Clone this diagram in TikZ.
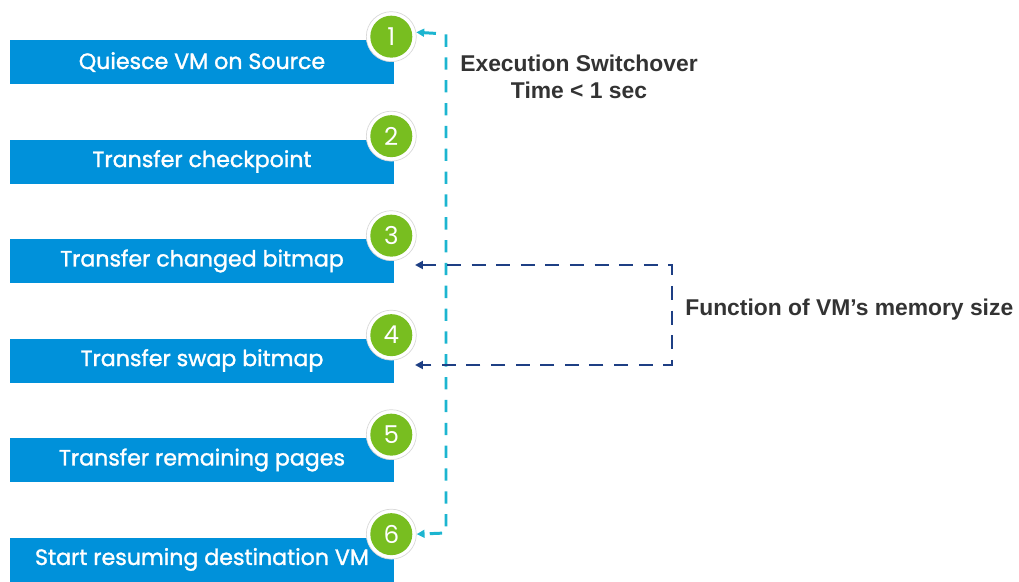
\documentclass[tikz,border=0pt]{standalone}
\usepackage{fontspec}
\setmainfont{Liberation Sans}
\newfontfamily\boxfont{Poppins}[FakeBold=1.4]
\newfontfamily\numfont{Poppins}
\usetikzlibrary{
  positioning,
  calc,
  arrows.meta
}
\definecolor{stepblue}{HTML}{0091DA}
\definecolor{stepgreen}{HTML}{78BE20}
\definecolor{switchcyan}{HTML}{1CB5D0}
\definecolor{memnavy}{HTML}{1E3F84}
\definecolor{labelgray}{HTML}{333333}
\tikzset{
  >={Triangle[length=4.5pt,width=4.5pt]},
  b/.style = {
    rectangle, fill=stepblue, text=white, inner sep=0pt,
    minimum width=7.68cm, minimum height=0.88cm,
    font=\boxfont\fontsize{12.6}{14}\selectfont
  },
  c/.style = {
    circle, minimum size=1cm, inner sep=0pt,
    fill=white, draw=black!15, line width=0.4pt,
    path picture={
      \fill [stepgreen] (path picture bounding box.center) circle (0.42cm);
    },
    text=white, font=\numfont\fontsize{14}{16}\selectfont
  },
  sw/.style = {
    <->, switchcyan, line width=1.7pt, dash pattern=on 7pt off 6pt
  },
  mem/.style = {
    <->, memnavy, line width=1.7pt, dash pattern=on 8pt off 6pt
  },
  l/.style = {
    text=labelgray, inner sep=0pt, align=center,
    font=\bfseries\fontsize{13}{15}\selectfont
  }
}
\begin{document}
\begin{tikzpicture}[x=0.02cm, y=-0.02cm]
  \useasboundingbox (0,0) rectangle (1019,582);
  \path
    (202,62) node [b] (b1) {Quiesce VM on Source}
    (202,161.5) node [b] (b2) {Transfer checkpoint}
    (202,261) node [b] (b3) {Transfer changed bitmap}
    (202,360.5) node [b] (b4) {Transfer swap bitmap}
    (202,460) node [b] (b5) {Transfer remaining pages}
    (202,559.5) node [b] (b6) {Start resuming destination VM};
  \path
    ([shift={(-3,-3)}]b1.north east) node [c] (c1) {1}
    ([shift={(-3,-3)}]b2.north east) node [c] (c2) {2}
    ([shift={(-3,-3)}]b3.north east) node [c] (c3) {3}
    ([shift={(-3,-3)}]b4.north east) node [c] (c4) {4}
    ([shift={(-3,-3)}]b5.north east) node [c] (c5) {5}
    ([shift={(-3,-3)}]b6.north east) node [c] (c6) {6};
  % switchover bracket
  \coordinate (swtop) at (446,34);
  \coordinate (swbot) at (446,533);
  \draw [sw] (c1.10) -- (swtop) -- (swbot) -- (c6.east);
  \node [l] (swlabel) at (579,77) {Execution Switchover\\Time < 1 sec};
  % memory bracket
  \coordinate (m3) at (415,265);
  \coordinate (m4) at (415,365);
  \coordinate (fa) at (672,265);
  \coordinate (fb) at (672,365);
  \draw [mem] (m3) -- (fa) -- (fb) -- (m4);
  \node [l, anchor=west] (memlabel) at (685,310) {Function of VM’s memory size};
\end{tikzpicture}
\end{document}
